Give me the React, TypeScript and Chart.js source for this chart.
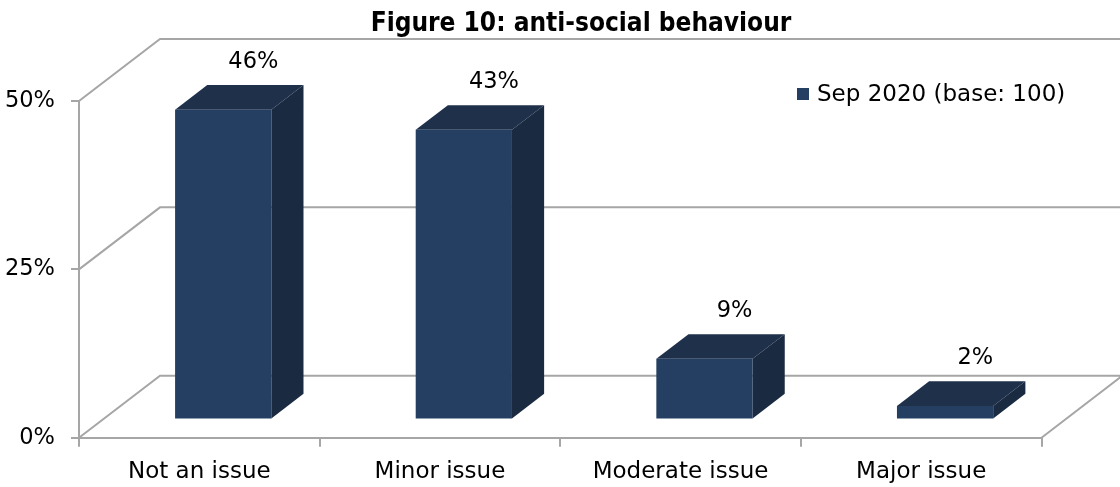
import React, { useEffect, useRef } from "react";
import { Chart, registerables } from "chart.js";

Chart.register(...registerables);

const chartTitle = "Figure 10: anti-social behaviour";
const seriesName = "Sep 2020 (base: 100)";
const categories = ["Not an issue", "Minor issue", "Moderate issue", "Major issue"];
const seriesValues = [46, 43, 9, 2];
const yTickValues = [0, 25, 50];

const FONT = "'DejaVu Sans', sans-serif";
const TITLE_FONT = "'DejaVu Sans Condensed', 'DejaVu Sans', sans-serif";
const FRONT = "#243f61";
const TOP = "#1f304b";
const SIDE = "#1a2a41";
const AXIS = "#a6a6a6";
const WALL_DX = 81;
const WALL_DY = -62;
const BAR_FRONT = 0.295;
const BAR_BACK = 0.692;

const threeD = {
  id: "threeD",
  beforeDatasetsDraw(chart: any) {
    const { ctx, chartArea, scales } = chart;
    const ys = scales.y;
    ctx.save();
    ctx.strokeStyle = AXIS;
    ctx.lineWidth = 2;
    ctx.beginPath();
    const y0 = ys.getPixelForValue(0);
    for (const v of yTickValues) {
      const py = ys.getPixelForValue(v);
      ctx.moveTo(chartArea.left, py);
      ctx.lineTo(chartArea.left + WALL_DX, py + WALL_DY);
      ctx.lineTo(chart.width + 5, py + WALL_DY);
    }
    ctx.moveTo(chartArea.right, y0);
    ctx.lineTo(chartArea.right + WALL_DX, y0 + WALL_DY);
    ctx.stroke();

    const fx = WALL_DX * BAR_FRONT;
    const fy = WALL_DY * BAR_FRONT;
    const dx = WALL_DX * (BAR_BACK - BAR_FRONT);
    const dy = WALL_DY * (BAR_BACK - BAR_FRONT);
    const meta = chart.getDatasetMeta(0);
    meta.data.forEach((el: any) => {
      const { x, y, base, width } = el.getProps(["x", "y", "base", "width"], true);
      const L = x - width / 2 + fx;
      const R = x + width / 2 + fx;
      const T = y + fy;
      const B = base + fy;
      ctx.fillStyle = TOP;
      ctx.beginPath();
      ctx.moveTo(L, T);
      ctx.lineTo(R, T);
      ctx.lineTo(R + dx, T + dy);
      ctx.lineTo(L + dx, T + dy);
      ctx.closePath();
      ctx.fill();
      ctx.fillStyle = SIDE;
      ctx.beginPath();
      ctx.moveTo(R, T);
      ctx.lineTo(R + dx, T + dy);
      ctx.lineTo(R + dx, B + dy);
      ctx.lineTo(R, B);
      ctx.closePath();
      ctx.fill();
    });
    ctx.restore();
    ctx.save();
    ctx.translate(fx, fy);
  },
  afterDatasetsDraw(chart: any) {
    const { ctx } = chart;
    ctx.restore();
    const fx = WALL_DX * BAR_FRONT;
    const fy = WALL_DY * BAR_FRONT;
    const dx = WALL_DX * (BAR_BACK - BAR_FRONT);
    const dy = WALL_DY * (BAR_BACK - BAR_FRONT);
    const meta = chart.getDatasetMeta(0);
    ctx.save();
    ctx.fillStyle = "#000";
    ctx.font = `22.5px ${FONT}`;
    ctx.textAlign = "center";
    ctx.textBaseline = "middle";
    meta.data.forEach((el: any, i: number) => {
      const { x, y } = el.getProps(["x", "y"], true);
      ctx.fillText(`${seriesValues[i]}%`, x + fx + dx - 2, y + fy + dy - 23);
    });
    ctx.restore();
  },
  afterDraw(chart: any) {
    const { ctx } = chart;
    ctx.save();
    ctx.fillStyle = "#000";
    ctx.font = `bold 26px ${TITLE_FONT}`;
    ctx.textAlign = "center";
    ctx.textBaseline = "alphabetic";
    ctx.fillText(chartTitle, 581, 31);
    ctx.fillStyle = FRONT;
    ctx.fillRect(797, 88, 12, 12);
    ctx.fillStyle = "#000";
    ctx.font = `23px ${FONT}`;
    ctx.textAlign = "left";
    ctx.textBaseline = "middle";
    ctx.fillText(seriesName, 817, 95);
    ctx.restore();
  },
};

export default function App() {
  const ref = useRef<HTMLCanvasElement | null>(null);
  useEffect(() => {
    document.body.style.margin = "0";
    const canvas = ref.current;
    if (!canvas) return;
    const chart = new Chart(canvas, {
      type: "bar",
      data: {
        labels: categories,
        datasets: [
          {
            label: seriesName,
            data: seriesValues,
            backgroundColor: FRONT,
            borderWidth: 0,
            categoryPercentage: 1,
            barPercentage: 0.4,
            clip: false as any,
          },
        ],
      },
      options: {
        animation: false,
        responsive: false,
        devicePixelRatio: 1,
        layout: { padding: { left: 0, right: 78.5, top: 101, bottom: 0 } },
        plugins: {
          legend: { display: false },
          title: { display: false },
          tooltip: { enabled: false },
        },
        scales: {
          x: {
            offset: true,
            grid: {
              offset: true,
              drawOnChartArea: false,
              drawTicks: true,
              tickLength: 9,
              color: AXIS,
              lineWidth: 2,
            },
            border: { display: true, color: AXIS, width: 2 },
            ticks: { color: "#000", font: { family: FONT, size: 23 }, padding: 12, maxRotation: 0 },
            afterFit: (s: any) => {
              s.height = 49.3;
            },
          },
          y: {
            min: 0,
            max: 50,
            grid: {
              drawOnChartArea: false,
              drawTicks: true,
              tickLength: 8,
              color: AXIS,
              lineWidth: 2,
            },
            border: { display: true, color: AXIS, width: 2 },
            ticks: {
              stepSize: 25,
              color: "#000",
              font: { family: FONT, size: 22.5 },
              padding: 16,
              callback: (v: any) => `${v}%`,
            },
            afterFit: (s: any) => {
              s.width = 79;
            },
          },
        },
      },
      plugins: [threeD],
    });
    return () => chart.destroy();
  }, []);
  return (
    <div style={{ position: "absolute", left: 0, top: 0, width: 1120, height: 487, background: "#fff" }}>
      <canvas ref={ref} width={1120} height={487} style={{ width: 1120, height: 487, display: "block" }} />
    </div>
  );
}
